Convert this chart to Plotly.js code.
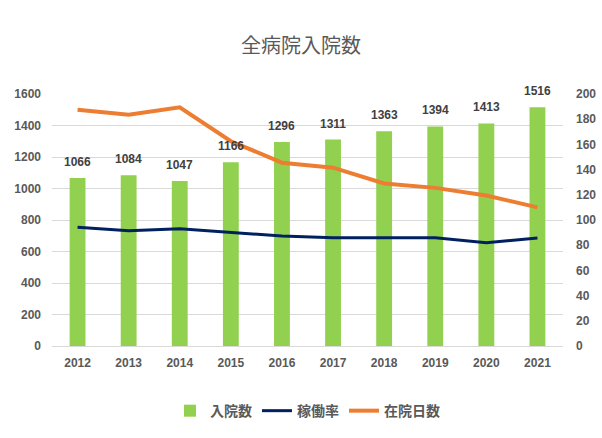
<!DOCTYPE html>
<html><head><meta charset="utf-8">
<script src="https://cdn.plot.ly/plotly-3.0.1.min.js"></script>
<style>html,body{margin:0;padding:0;background:#fff}</style>
</head><body>
<div id="chart" style="width:602px;height:438px"></div>
<script>
const years = ['2012','2013','2014','2015','2016','2017','2018','2019','2020','2021'];
const admissions = [1066,1084,1047,1166,1296,1311,1363,1394,1413,1516];
const occupancy = [94.3,91.5,93,90,87.3,86,86,86,82,85.8];
const stayDays = [187.5,183.5,189.5,162.5,145.5,141.5,129,125.5,119.5,110];

const cjk = '"Noto Sans CJK JP", "Noto Sans", sans-serif';
const num = '"Liberation Sans", Arial, sans-serif';

const data = [
  {type:'bar', name:'入院数', x:years, y:admissions, marker:{color:'#92d050'}, width:0.31},
  {type:'scatter', mode:'lines', name:'稼働率', x:years, y:occupancy, yaxis:'y2',
   line:{color:'#002060', width:3}},
  {type:'scatter', mode:'lines', name:'在院日数', x:years, y:stayDays, yaxis:'y2',
   line:{color:'#ed7d31', width:4}}
];
const annotations = years.map((yr, i) => ({
  x: i, y: admissions[i], xref:'x', yref:'y', text: String(admissions[i]),
  showarrow:false, yanchor:'bottom', yshift:7,
  font:{family:num, size:12, color:'#404040', weight:'bold'}
}));
const layout = {
  width:602, height:438,
  margin:{l:52, r:39, t:94, b:91},
  paper_bgcolor:'#fff', plot_bgcolor:'#fff',
  title:{text:'全病院入院数', x:0.5, xanchor:'center', y:0.895, yanchor:'middle',
         font:{family:cjk, size:20, color:'#595959'}},
  showlegend:true,
  legend:{orientation:'h', x:0.5, xanchor:'center', y:-0.19, yanchor:'top',
          font:{family:cjk, size:14, color:'#595959', weight:'bold'}, traceorder:'normal'},
  annotations: annotations,
  xaxis:{type:'category', range:[-0.5, 9.5], showgrid:false, zeroline:false, showline:false, ticks:'',
         ticklabelstandoff:8,
         tickfont:{family:num, size:12, color:'#595959', weight:'bold'}},
  yaxis:{range:[0,1600], dtick:200, gridcolor:'#d9d9d9', gridwidth:1, zeroline:true,
         zerolinecolor:'#d9d9d9', showline:false, ticks:'', ticklabelstandoff:10,
         tickfont:{family:num, size:12, color:'#595959', weight:'bold'}},
  yaxis2:{range:[0,200], dtick:20, overlaying:'y', side:'right', showgrid:false,
          zeroline:false, showline:false, ticks:'', ticklabelstandoff:12,
          tickfont:{family:num, size:12, color:'#595959', weight:'bold'}}
};
Plotly.newPlot('chart', data, layout, {displayModeBar:false, staticPlot:true});
</script>
</body></html>
